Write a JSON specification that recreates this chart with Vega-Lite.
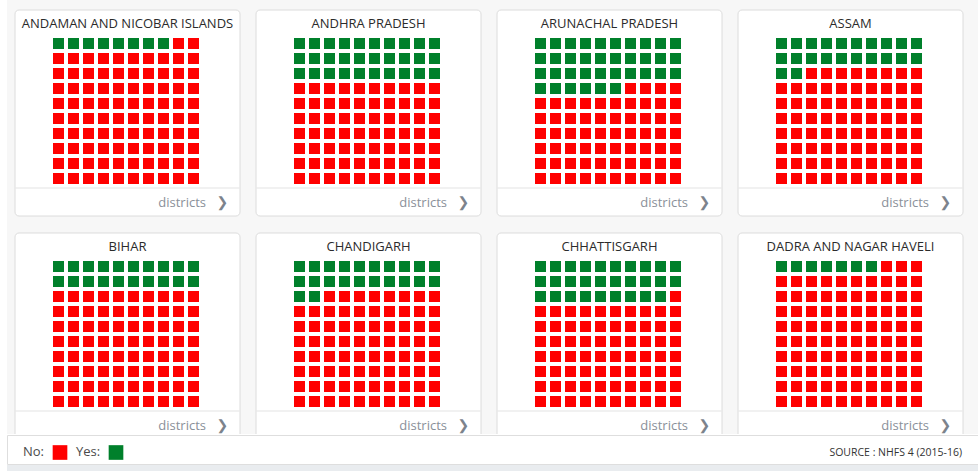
{
  "$schema": "https://vega.github.io/schema/vega-lite/v6.json",
  "background": "white",
  "padding": {"left": 6, "top": 0, "right": 0, "bottom": 0},
  "autosize": {"type": "pad"},
  "spacing": 0,
  "config": {"view": {"stroke": null}, "font": "Open Sans"},
  "datasets": {
    "grid": [
      {"n":1,"r":0,"c":0},{"n":2,"r":0,"c":1},{"n":3,"r":0,"c":2},{"n":4,"r":0,"c":3},{"n":5,"r":0,"c":4},{"n":6,"r":0,"c":5},{"n":7,"r":0,"c":6},{"n":8,"r":0,"c":7},{"n":9,"r":0,"c":8},{"n":10,"r":0,"c":9},
      {"n":11,"r":1,"c":0},{"n":12,"r":1,"c":1},{"n":13,"r":1,"c":2},{"n":14,"r":1,"c":3},{"n":15,"r":1,"c":4},{"n":16,"r":1,"c":5},{"n":17,"r":1,"c":6},{"n":18,"r":1,"c":7},{"n":19,"r":1,"c":8},{"n":20,"r":1,"c":9},
      {"n":21,"r":2,"c":0},{"n":22,"r":2,"c":1},{"n":23,"r":2,"c":2},{"n":24,"r":2,"c":3},{"n":25,"r":2,"c":4},{"n":26,"r":2,"c":5},{"n":27,"r":2,"c":6},{"n":28,"r":2,"c":7},{"n":29,"r":2,"c":8},{"n":30,"r":2,"c":9},
      {"n":31,"r":3,"c":0},{"n":32,"r":3,"c":1},{"n":33,"r":3,"c":2},{"n":34,"r":3,"c":3},{"n":35,"r":3,"c":4},{"n":36,"r":3,"c":5},{"n":37,"r":3,"c":6},{"n":38,"r":3,"c":7},{"n":39,"r":3,"c":8},{"n":40,"r":3,"c":9},
      {"n":41,"r":4,"c":0},{"n":42,"r":4,"c":1},{"n":43,"r":4,"c":2},{"n":44,"r":4,"c":3},{"n":45,"r":4,"c":4},{"n":46,"r":4,"c":5},{"n":47,"r":4,"c":6},{"n":48,"r":4,"c":7},{"n":49,"r":4,"c":8},{"n":50,"r":4,"c":9},
      {"n":51,"r":5,"c":0},{"n":52,"r":5,"c":1},{"n":53,"r":5,"c":2},{"n":54,"r":5,"c":3},{"n":55,"r":5,"c":4},{"n":56,"r":5,"c":5},{"n":57,"r":5,"c":6},{"n":58,"r":5,"c":7},{"n":59,"r":5,"c":8},{"n":60,"r":5,"c":9},
      {"n":61,"r":6,"c":0},{"n":62,"r":6,"c":1},{"n":63,"r":6,"c":2},{"n":64,"r":6,"c":3},{"n":65,"r":6,"c":4},{"n":66,"r":6,"c":5},{"n":67,"r":6,"c":6},{"n":68,"r":6,"c":7},{"n":69,"r":6,"c":8},{"n":70,"r":6,"c":9},
      {"n":71,"r":7,"c":0},{"n":72,"r":7,"c":1},{"n":73,"r":7,"c":2},{"n":74,"r":7,"c":3},{"n":75,"r":7,"c":4},{"n":76,"r":7,"c":5},{"n":77,"r":7,"c":6},{"n":78,"r":7,"c":7},{"n":79,"r":7,"c":8},{"n":80,"r":7,"c":9},
      {"n":81,"r":8,"c":0},{"n":82,"r":8,"c":1},{"n":83,"r":8,"c":2},{"n":84,"r":8,"c":3},{"n":85,"r":8,"c":4},{"n":86,"r":8,"c":5},{"n":87,"r":8,"c":6},{"n":88,"r":8,"c":7},{"n":89,"r":8,"c":8},{"n":90,"r":8,"c":9},
      {"n":91,"r":9,"c":0},{"n":92,"r":9,"c":1},{"n":93,"r":9,"c":2},{"n":94,"r":9,"c":3},{"n":95,"r":9,"c":4},{"n":96,"r":9,"c":5},{"n":97,"r":9,"c":6},{"n":98,"r":9,"c":7},{"n":99,"r":9,"c":8},{"n":100,"r":9,"c":9}
    ],
    "states": [
      {"state": "ANDAMAN AND NICOBAR ISLANDS", "pc": 0, "pr": 0, "cells": [
        "Y","Y","Y","Y","Y","Y","Y","Y","N","N",
        "N","N","N","N","N","N","N","N","N","N",
        "N","N","N","N","N","N","N","N","N","N",
        "N","N","N","N","N","N","N","N","N","N",
        "N","N","N","N","N","N","N","N","N","N",
        "N","N","N","N","N","N","N","N","N","N",
        "N","N","N","N","N","N","N","N","N","N",
        "N","N","N","N","N","N","N","N","N","N",
        "N","N","N","N","N","N","N","N","N","N",
        "N","N","N","N","N","N","N","N","N","N"]},
      {"state": "ANDHRA PRADESH", "pc": 1, "pr": 0, "cells": [
        "Y","Y","Y","Y","Y","Y","Y","Y","Y","Y",
        "Y","Y","Y","Y","Y","Y","Y","Y","Y","Y",
        "Y","Y","Y","Y","Y","Y","Y","Y","Y","Y",
        "N","N","N","N","N","N","N","N","N","N",
        "N","N","N","N","N","N","N","N","N","N",
        "N","N","N","N","N","N","N","N","N","N",
        "N","N","N","N","N","N","N","N","N","N",
        "N","N","N","N","N","N","N","N","N","N",
        "N","N","N","N","N","N","N","N","N","N",
        "N","N","N","N","N","N","N","N","N","N"]},
      {"state": "ARUNACHAL PRADESH", "pc": 2, "pr": 0, "cells": [
        "Y","Y","Y","Y","Y","Y","Y","Y","Y","Y",
        "Y","Y","Y","Y","Y","Y","Y","Y","Y","Y",
        "Y","Y","Y","Y","Y","Y","Y","Y","Y","Y",
        "Y","Y","Y","Y","Y","Y","N","N","N","N",
        "N","N","N","N","N","N","N","N","N","N",
        "N","N","N","N","N","N","N","N","N","N",
        "N","N","N","N","N","N","N","N","N","N",
        "N","N","N","N","N","N","N","N","N","N",
        "N","N","N","N","N","N","N","N","N","N",
        "N","N","N","N","N","N","N","N","N","N"]},
      {"state": "ASSAM", "pc": 3, "pr": 0, "cells": [
        "Y","Y","Y","Y","Y","Y","Y","Y","Y","Y",
        "Y","Y","Y","Y","Y","Y","Y","Y","Y","Y",
        "Y","Y","N","N","N","N","N","N","N","N",
        "N","N","N","N","N","N","N","N","N","N",
        "N","N","N","N","N","N","N","N","N","N",
        "N","N","N","N","N","N","N","N","N","N",
        "N","N","N","N","N","N","N","N","N","N",
        "N","N","N","N","N","N","N","N","N","N",
        "N","N","N","N","N","N","N","N","N","N",
        "N","N","N","N","N","N","N","N","N","N"]},
      {"state": "BIHAR", "pc": 0, "pr": 1, "cells": [
        "Y","Y","Y","Y","Y","Y","Y","Y","Y","Y",
        "Y","Y","Y","Y","Y","Y","Y","Y","Y","Y",
        "N","N","N","N","N","N","N","N","N","N",
        "N","N","N","N","N","N","N","N","N","N",
        "N","N","N","N","N","N","N","N","N","N",
        "N","N","N","N","N","N","N","N","N","N",
        "N","N","N","N","N","N","N","N","N","N",
        "N","N","N","N","N","N","N","N","N","N",
        "N","N","N","N","N","N","N","N","N","N",
        "N","N","N","N","N","N","N","N","N","N"]},
      {"state": "CHANDIGARH", "pc": 1, "pr": 1, "cells": [
        "Y","Y","Y","Y","Y","Y","Y","Y","Y","Y",
        "Y","Y","Y","Y","Y","Y","Y","Y","Y","Y",
        "Y","Y","N","N","N","N","N","N","N","N",
        "N","N","N","N","N","N","N","N","N","N",
        "N","N","N","N","N","N","N","N","N","N",
        "N","N","N","N","N","N","N","N","N","N",
        "N","N","N","N","N","N","N","N","N","N",
        "N","N","N","N","N","N","N","N","N","N",
        "N","N","N","N","N","N","N","N","N","N",
        "N","N","N","N","N","N","N","N","N","N"]},
      {"state": "CHHATTISGARH", "pc": 2, "pr": 1, "cells": [
        "Y","Y","Y","Y","Y","Y","Y","Y","Y","Y",
        "Y","Y","Y","Y","Y","Y","Y","Y","Y","Y",
        "Y","Y","Y","Y","Y","Y","Y","Y","Y","N",
        "N","N","N","N","N","N","N","N","N","N",
        "N","N","N","N","N","N","N","N","N","N",
        "N","N","N","N","N","N","N","N","N","N",
        "N","N","N","N","N","N","N","N","N","N",
        "N","N","N","N","N","N","N","N","N","N",
        "N","N","N","N","N","N","N","N","N","N",
        "N","N","N","N","N","N","N","N","N","N"]},
      {"state": "DADRA AND NAGAR HAVELI", "pc": 3, "pr": 1, "cells": [
        "Y","Y","Y","Y","Y","Y","Y","N","N","N",
        "N","N","N","N","N","N","N","N","N","N",
        "N","N","N","N","N","N","N","N","N","N",
        "N","N","N","N","N","N","N","N","N","N",
        "N","N","N","N","N","N","N","N","N","N",
        "N","N","N","N","N","N","N","N","N","N",
        "N","N","N","N","N","N","N","N","N","N",
        "N","N","N","N","N","N","N","N","N","N",
        "N","N","N","N","N","N","N","N","N","N",
        "N","N","N","N","N","N","N","N","N","N"]}
    ],
    "legendItems": [
      {"label": "No:", "a": "N"},
      {"label": "Yes:", "a": "Y"}
    ]
  },
  "vconcat": [
    {
      "width": 972,
      "height": 434,
      "view": {"fill": "#f7f7f7", "stroke": null},
      "layer": [
        {
          "data": {"name": "states"},
          "mark": {"type": "rect", "fill": "white", "stroke": "#dcdcdc", "strokeWidth": 1, "cornerRadius": 4, "clip": true},
          "encoding": {
            "x": {"field": "pc", "type": "ordinal", "axis": null, "scale": {"range": [8, 956], "paddingInner": 0.06639, "paddingOuter": 0}},
            "y": {"field": "pr", "type": "ordinal", "axis": null, "scale": {"range": [10, 439], "paddingInner": 0.076233, "paddingOuter": 0}}
          }
        },
        {
          "data": {"name": "states"},
          "mark": {"type": "tick", "orient": "horizontal", "size": 224, "thickness": 1, "color": "#e4e4e4", "opacity": 1},
          "encoding": {
            "x": {"field": "pc", "type": "ordinal", "axis": null, "bandPosition": 0.5},
            "y": {"field": "pr", "type": "ordinal", "axis": null, "bandPosition": 0.864}
          }
        },
        {
          "data": {"name": "states"},
          "mark": {"type": "text", "baseline": "alphabetic", "align": "center", "fontSize": 13, "color": "#2b2b2b", "font": "Open Sans"},
          "encoding": {
            "x": {"field": "pc", "type": "ordinal", "axis": null, "bandPosition": 0.5},
            "y": {"field": "pr", "type": "ordinal", "axis": null, "bandPosition": 0.0898},
            "text": {"field": "state"}
          }
        },
        {
          "data": {"name": "states"},
          "mark": {"type": "text", "baseline": "alphabetic", "align": "right", "fontSize": 13, "color": "#8a9099", "font": "Open Sans"},
          "encoding": {
            "x": {"field": "pc", "type": "ordinal", "axis": null, "bandPosition": 0.849},
            "y": {"field": "pr", "type": "ordinal", "axis": null, "bandPosition": 0.954},
            "text": {"value": "districts"}
          }
        },
        {
          "data": {"name": "states"},
          "mark": {"type": "text", "baseline": "alphabetic", "align": "center", "fontSize": 14, "fontWeight": "bold", "color": "#7c838c", "font": "DejaVu Sans"},
          "encoding": {
            "x": {"field": "pc", "type": "ordinal", "axis": null, "bandPosition": 0.922},
            "y": {"field": "pr", "type": "ordinal", "axis": null, "bandPosition": 0.954},
            "text": {"value": "❯"}
          }
        },
        {
          "data": {"name": "states"},
          "transform": [
            {"flatten": ["cells"], "as": ["answer"]},
            {"window": [{"op": "row_number", "as": "n"}], "groupby": ["state"]},
            {"lookup": "n", "from": {"data": {"name": "grid"}, "key": "n", "fields": ["r", "c"]}}
          ],
          "mark": {"type": "rect", "clip": true},
          "encoding": {
            "x": {"field": "pc", "type": "ordinal", "axis": null},
            "y": {"field": "pr", "type": "ordinal", "axis": null},
            "xOffset": {"field": "c", "type": "ordinal", "scale": {"domain": [-2, -1, 0, 1, 2, 3, 4, 5, 6, 7, 8, 9, 10, 11], "paddingInner": 0.26667, "paddingOuter": 0.6333, "align": 0.421}},
            "yOffset": {"field": "r", "type": "ordinal", "scale": {"domain": [-1, 0, 1, 2, 3, 4, 5, 6, 7, 8, 9, 10, 11], "paddingInner": 0.26667, "paddingOuter": 0.5, "align": 0.867}},
            "color": {"field": "answer", "type": "nominal", "legend": null, "scale": {"domain": ["N", "Y"], "range": ["#ff0000", "#00802b"]}}
          }
        }
      ]
    },
    {
      "width": 972,
      "height": 29,
      "view": {"fill": "white", "stroke": "#dedede"},
      "title": {"text": "SOURCE : NHFS 4 (2015-16)", "orient": "bottom", "anchor": "end", "offset": -8.5, "baseline": "alphabetic", "dx": -17, "fontSize": 10.5, "fontWeight": "normal", "color": "#333333", "font": "Open Sans"},
      "data": {"name": "legendItems"},
      "layer": [
        {
          "mark": {"type": "text", "align": "left", "baseline": "alphabetic", "fontSize": 13, "color": "#4a4a4a", "font": "Open Sans", "dy": 6.8},
          "encoding": {
            "x": {"field": "a", "type": "nominal", "axis": null, "scale": {"type": "point", "domain": ["N", "Y"], "range": [16, 69], "padding": 0}},
            "text": {"field": "label"}
          }
        },
        {
          "mark": {"type": "square", "size": 215, "filled": true, "opacity": 1},
          "encoding": {
            "x": {"field": "a", "type": "nominal", "axis": null, "scale": {"type": "point", "domain": ["N", "Y"], "range": [53, 109], "padding": 0}},
            "yOffset": {"value": 3},
            "color": {"field": "a", "type": "nominal", "legend": null, "scale": {"domain": ["N", "Y"], "range": ["#ff0000", "#00802b"]}}
          }
        }
      ],
      "resolve": {"scale": {"x": "independent"}}
    },
    {
      "width": 972,
      "height": 8,
      "view": {"fill": "#e9ecef", "stroke": null},
      "data": {"values": []},
      "mark": "rect",
      "encoding": {}
    }
  ],
  "resolve": {"scale": {"color": "independent"}}
}
